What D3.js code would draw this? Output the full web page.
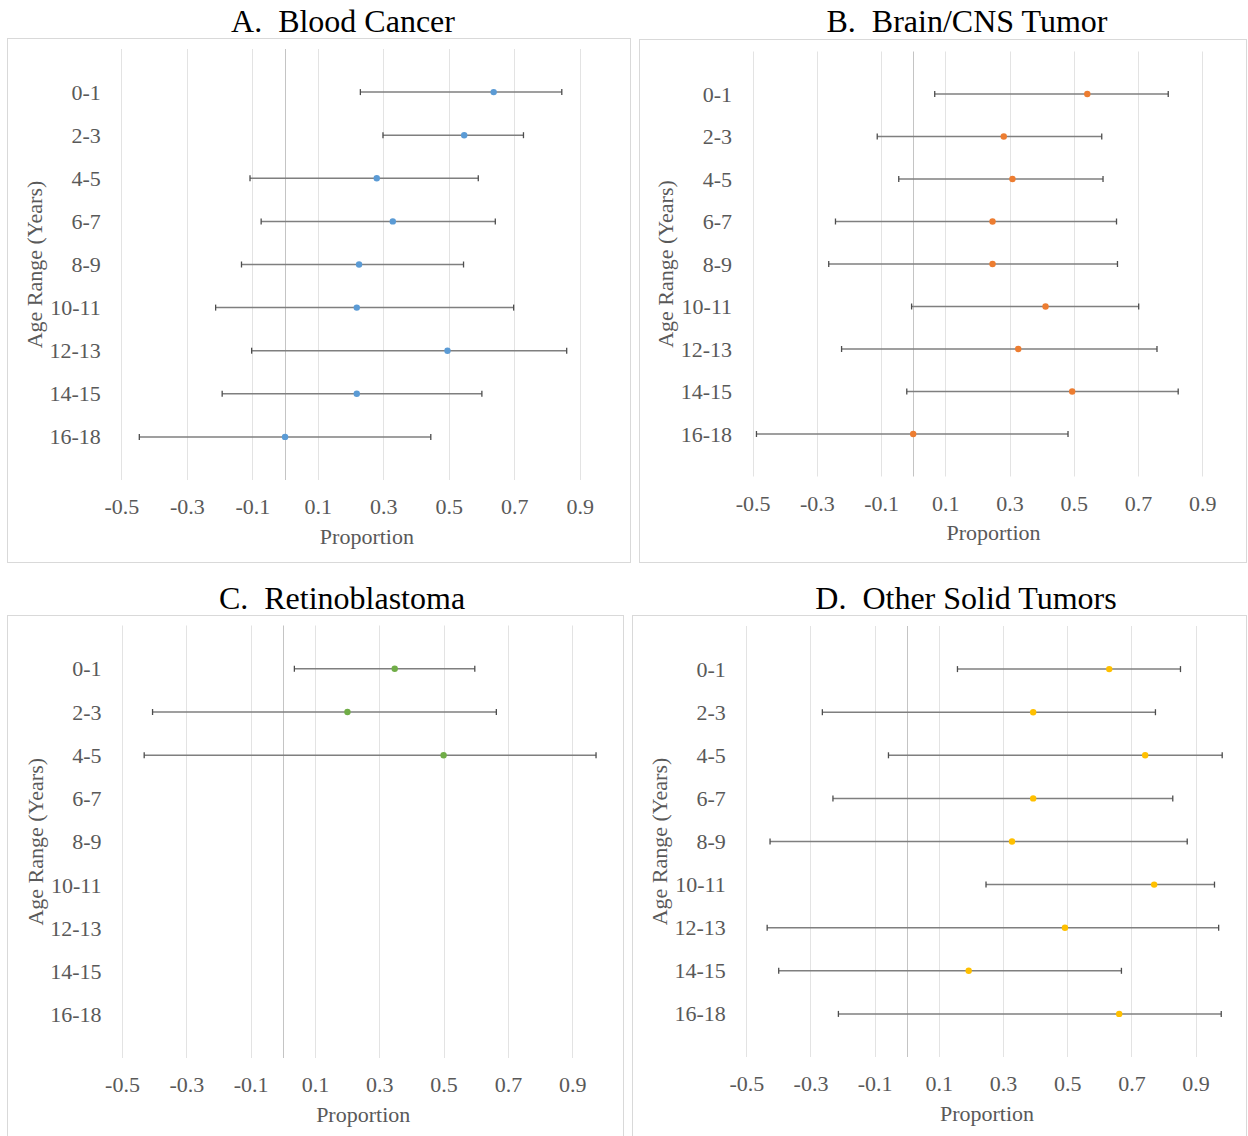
<!DOCTYPE html>
<html>
<head>
<meta charset="utf-8">
<script src="https://cdn.jsdelivr.net/npm/d3@7"></script>
<style>
  body { margin: 0; background: #fff; }
  svg { display: block; font-family: "Liberation Serif", "Times New Roman", serif; }
</style>
</head>
<body>
<div id="chart"></div>
<script>
// Data
const ageRanges = ["0-1", "2-3", "4-5", "6-7", "8-9", "10-11", "12-13", "14-15", "16-18"];
const xTicks = [-0.5, -0.3, -0.1, 0.1, 0.3, 0.5, 0.7, 0.9];

const bloodEst = [0.637, 0.547, 0.28, 0.329, 0.226, 0.219, 0.496, 0.219, 0.0];
const bloodLow = [0.23, 0.299, -0.107, -0.073, -0.133, -0.212, -0.102, -0.192, -0.445];
const bloodHigh = [0.845, 0.728, 0.59, 0.642, 0.545, 0.698, 0.86, 0.601, 0.445];

const brainEst = [0.542, 0.282, 0.309, 0.247, 0.247, 0.412, 0.327, 0.495, 0.0];
const brainLow = [0.067, -0.112, -0.045, -0.242, -0.263, -0.005, -0.223, -0.02, -0.488];
const brainHigh = [0.794, 0.587, 0.591, 0.633, 0.636, 0.702, 0.759, 0.825, 0.482];

const retinoEst = [0.348, 0.201, 0.5];
const retinoLow = [0.036, -0.405, -0.431];
const retinoHigh = [0.597, 0.664, 0.974];

const otherEst = [0.631, 0.394, 0.743, 0.394, 0.328, 0.771, 0.493, 0.193, 0.662];
const otherLow = [0.158, -0.263, -0.057, -0.23, -0.426, 0.247, -0.435, -0.399, -0.213];
const otherHigh = [0.853, 0.775, 0.983, 0.829, 0.874, 0.959, 0.972, 0.669, 0.98];

(function () {
  // Dimensions
  const width = 1248;
  const height = 1136;

  // Style
  const textColor = "#595959";
  const barColor = "#7f7f7f";
  const capColor = "#4d4d4d";
  const gridColor = "#e3e3e3";
  const zeroColor = "#c4c4c4";

  const panels = [
    {
      title: "A.  Blood Cancer", color: "#5b9bd5",
      est: bloodEst, low: bloodLow, high: bloodHigh,
      box: [7, 38, 630, 562], x0: 121.3, unit: 327.5, yTop: 49, yBot: 480, titleX: 343, titleY: 31.5,
    },
    {
      title: "B.  Brain/CNS Tumor", color: "#ed7d31",
      est: brainEst, low: brainLow, high: brainHigh,
      box: [639, 39, 1246, 562], x0: 752.6, unit: 321.2, yTop: 51.5, yBot: 476.5, titleX: 967, titleY: 31.5,
    },
    {
      title: "C.  Retinoblastoma", color: "#70ad47",
      est: retinoEst, low: retinoLow, high: retinoHigh,
      box: [7, 615, 623, 1140], x0: 122, unit: 321.6, yTop: 625.5, yBot: 1058, titleX: 342, titleY: 609,
    },
    {
      title: "D.  Other Solid Tumors", color: "#ffc000",
      est: otherEst, low: otherLow, high: otherHigh,
      box: [632, 615, 1246, 1140], x0: 746.3, unit: 320.9, yTop: 626, yBot: 1057, titleX: 966, titleY: 609,
    },
  ];

  const svg = d3
    .select("#chart")
    .append("svg")
    .attr("width", width)
    .attr("height", height)
    .attr("viewBox", [0, 0, width, height]);

  panels.forEach((p) => {
    const g = svg.append("g");

    const x = d3.scaleLinear([-0.5, 1.0], [p.x0, p.x0 + 1.5 * p.unit]);
    const y = d3.scaleLinear([0, 10], [p.yTop, p.yBot]);

    // Frame
    g.append("rect")
      .attr("x", p.box[0] + 0.5)
      .attr("y", p.box[1] + 0.5)
      .attr("width", p.box[2] - p.box[0])
      .attr("height", p.box[3] - p.box[1])
      .attr("fill", "none")
      .attr("stroke", "#d9d9d9")
      .attr("stroke-width", 1);

    // Title
    g.append("text")
      .attr("x", p.titleX)
      .attr("y", p.titleY)
      .attr("text-anchor", "middle")
      .style("white-space", "pre")
      .style("font-size", "32px")
      .attr("fill", "#000")
      .text(p.title);

    // Gridlines
    g.selectAll(".grid")
      .data(xTicks)
      .join("line")
      .attr("class", "grid")
      .attr("x1", (d) => Math.round(x(d)) + 0.5)
      .attr("x2", (d) => Math.round(x(d)) + 0.5)
      .attr("y1", p.yTop)
      .attr("y2", p.yBot)
      .attr("stroke", gridColor);

    g.append("line")
      .attr("x1", Math.round(x(0)) + 0.5)
      .attr("x2", Math.round(x(0)) + 0.5)
      .attr("y1", p.yTop)
      .attr("y2", p.yBot)
      .attr("stroke", zeroColor);

    // X axis
    const xAxis = g
      .append("g")
      .attr("transform", `translate(0,${p.yBot + 26.5})`)
      .call(d3.axisBottom(x).tickValues(xTicks).tickSize(0).tickPadding(0).tickFormat(d3.format(".1f")));
    xAxis.select(".domain").remove();
    xAxis
      .selectAll("text")
      .attr("dy", "0.35em")
      .attr("fill", textColor)
      .style("font-family", "Liberation Serif")
      .style("font-size", "22px")
      .text((d) => d3.format(".1f")(d).replace("−", "-"));

    g.append("text")
      .attr("x", x(0.25))
      .attr("y", p.yBot + 56)
      .attr("dy", "0.35em")
      .attr("text-anchor", "middle")
      .attr("fill", textColor)
      .style("font-size", "22px")
      .text("Proportion");

    // Y axis
    const yAxis = g
      .append("g")
      .attr("transform", `translate(${p.x0 - 20.5},0)`)
      .call(
        d3
          .axisLeft(y)
          .tickValues(d3.range(1, ageRanges.length + 1))
          .tickSize(0)
          .tickPadding(0)
          .tickFormat((d) => ageRanges[d - 1])
      );
    yAxis.select(".domain").remove();
    yAxis
      .selectAll("text")
      .attr("fill", textColor)
      .style("font-family", "Liberation Serif")
      .style("font-size", "22px");

    g.append("text")
      .attr("transform", `translate(${p.x0 - 87},${(p.yTop + p.yBot) / 2}) rotate(-90)`)
      .attr("dy", "0.35em")
      .attr("text-anchor", "middle")
      .attr("fill", textColor)
      .style("font-size", "22px")
      .text("Age Range (Years)");

    // Error bars
    const rows = p.est.map((e, i) => ({ est: e, low: p.low[i], high: p.high[i], pos: i + 1 }));

    g.selectAll(".bar")
      .data(rows)
      .join("line")
      .attr("class", "bar")
      .attr("x1", (d) => x(d.low))
      .attr("x2", (d) => x(d.high))
      .attr("y1", (d) => y(d.pos))
      .attr("y2", (d) => y(d.pos))
      .attr("stroke", barColor)
      .attr("stroke-width", 1.5);

    const caps = rows.flatMap((d) => [
      { v: d.low, pos: d.pos },
      { v: d.high, pos: d.pos },
    ]);
    g.selectAll(".cap")
      .data(caps)
      .join("line")
      .attr("class", "cap")
      .attr("x1", (d) => x(d.v))
      .attr("x2", (d) => x(d.v))
      .attr("y1", (d) => y(d.pos) - 3)
      .attr("y2", (d) => y(d.pos) + 3)
      .attr("stroke", capColor)
      .attr("stroke-width", 1.3);

    // Points
    g.selectAll(".dot")
      .data(rows)
      .join("circle")
      .attr("class", "dot")
      .attr("cx", (d) => x(d.est))
      .attr("cy", (d) => y(d.pos))
      .attr("r", 3.2)
      .attr("fill", p.color);
  });
})();
</script>
</body>
</html>
